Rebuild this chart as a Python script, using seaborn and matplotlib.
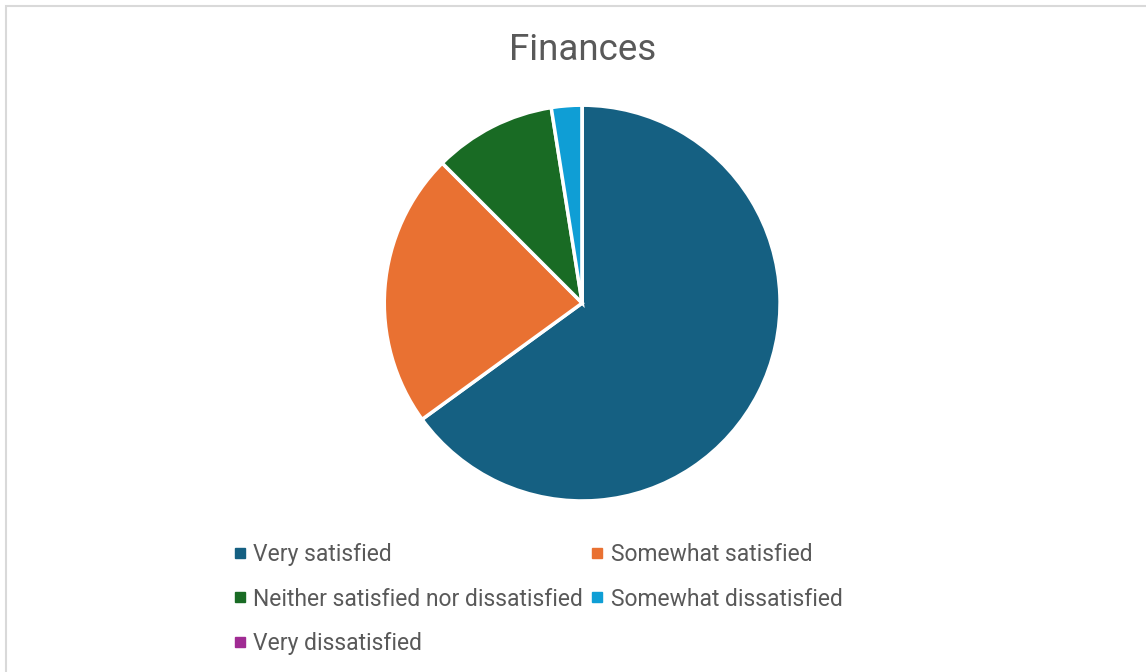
import matplotlib
matplotlib.use("Agg")
import matplotlib.pyplot as plt
import seaborn as sns
from matplotlib.lines import Line2D
from matplotlib.patches import Rectangle

sns.set_theme(style="white")
plt.rcParams["font.family"] = ["Roboto", "DejaVu Sans"]

# -------- DATA --------
categories = ["Very satisfied", "Somewhat satisfied",
              "Neither satisfied nor dissatisfied", "Somewhat dissatisfied",
              "Very dissatisfied"]
counts = [26, 9, 4, 1, 0]
colors = ["#156082", "#E97132", "#196B24", "#0F9ED5", "#A02B93"]
palette = sns.color_palette(colors)

text_col = "#595959"

fig = plt.figure(figsize=(11.46, 6.72), dpi=100)

# light frame (chart area border)
fig.patches.append(Rectangle((6 / 1146, -0.1), 1.2, (672 - 6) / 672 + 0.1,
                             transform=fig.transFigure, fill=False,
                             edgecolor="#d9d9d9", linewidth=1.5))

# -------- PIE --------
ax = fig.add_axes([0.336, 0.256, 0.344, 0.586])
ax.pie(counts, colors=palette, startangle=90, counterclock=False,
       wedgeprops=dict(edgecolor="white", linewidth=2.5))
ax.set_xlim(-0.995, 0.995)
ax.set_ylim(-0.995, 0.995)
ax.set_aspect("equal")
ax.axis("off")

fig.text(0.508, 0.926, "Finances", ha="center", va="center",
         fontsize=26.5, color=text_col)

# -------- LEGEND (row order like the original) --------
handles = [Line2D([0], [0], marker="s", linestyle="", markersize=7,
                  markerfacecolor=c, markeredgecolor=c) for c in palette]
order = [0, 2, 4, 1, 3]
leg = fig.legend([handles[i] for i in order], [categories[i] for i in order],
                 ncol=2, loc="upper left", bbox_to_anchor=(0.196, 0.206),
                 frameon=False, fontsize=16.5, handlelength=0.55,
                 handletextpad=0.3, columnspacing=0.35, labelspacing=0.95,
                 borderaxespad=0)
for t in leg.get_texts():
    t.set_color(text_col)

fig.savefig("out.png", dpi=100)
